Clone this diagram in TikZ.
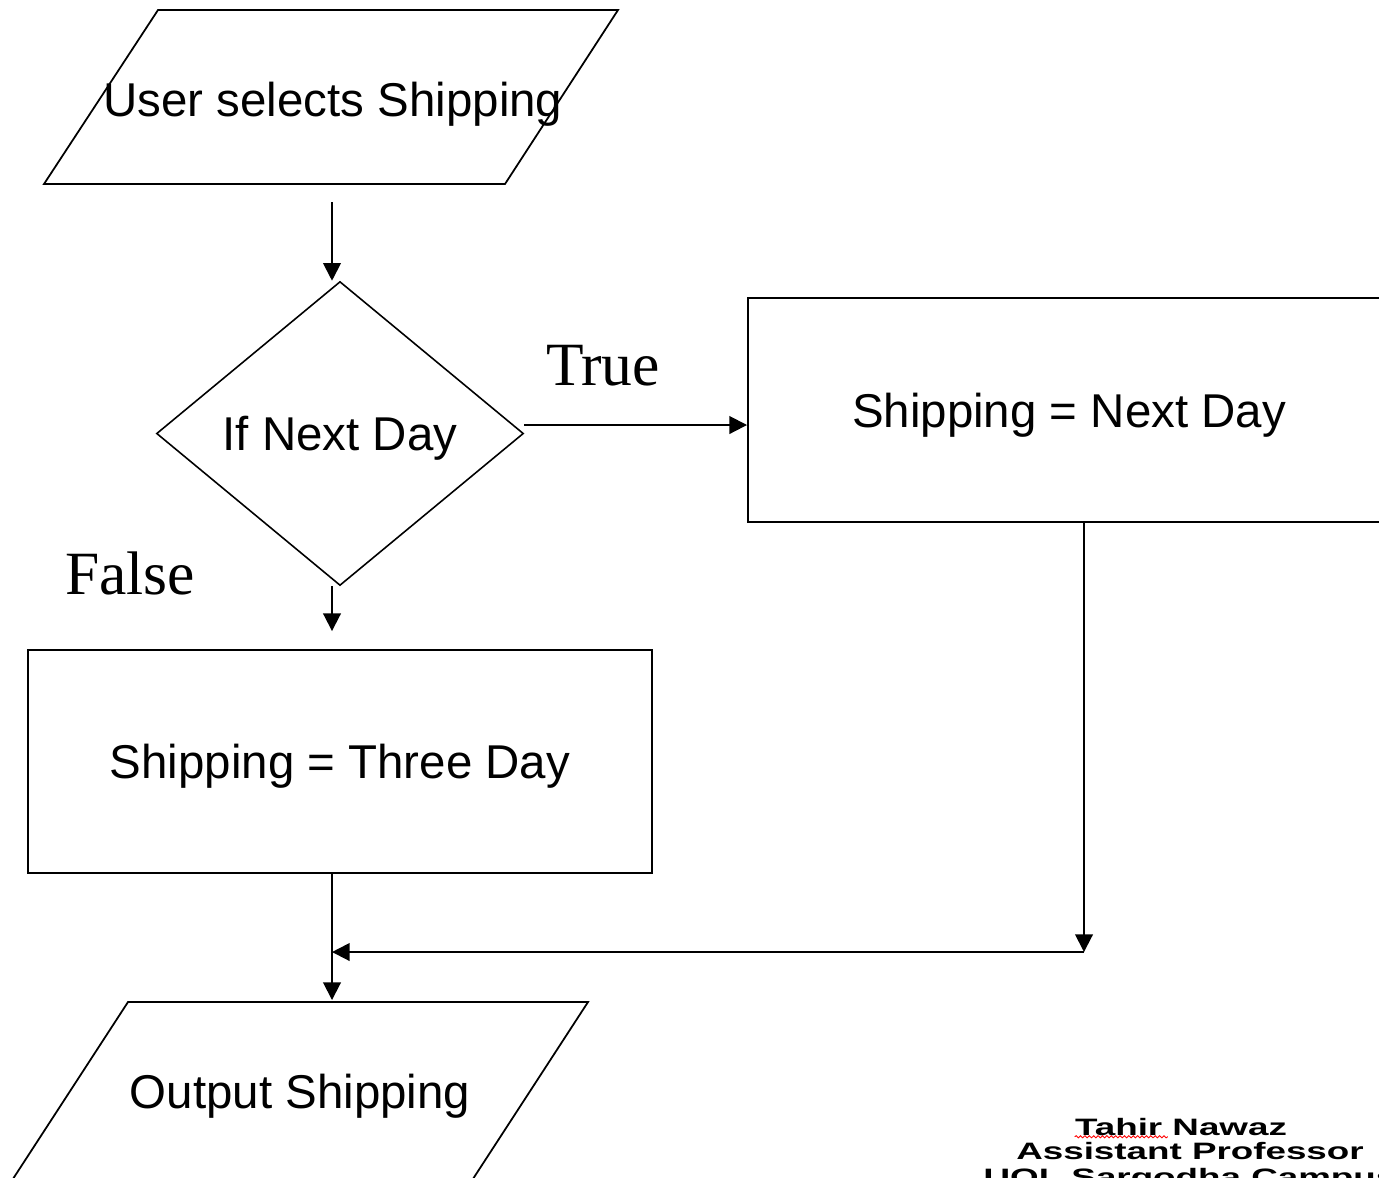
\documentclass[tikz,border=0pt]{standalone}
\usepackage{fontspec}
\setmainfont{Liberation Sans}
\newfontfamily\serifface{Liberation Serif}
\newfontfamily\footface{Liberation Sans}[FakeStretch=1.55]
\usetikzlibrary{shapes.geometric,arrows.meta,decorations.pathmorphing}

\begin{document}
\begin{tikzpicture}[x=1cm,y=1cm,
  txt/.style={inner sep=0pt, font=\fontsize{27}{32}\selectfont},
  lbl/.style={inner sep=0pt, font=\serifface\fontsize{35}{40}\selectfont},
  foot/.style={inner sep=0pt, font=\footface\bfseries\fontsize{13.5}{14}\selectfont},
  procbox/.style={draw, line width=1.1pt, inner sep=0pt, text depth=0pt, font=\fontsize{27}{32}\selectfont},
  iobox/.style={line width=1pt},
  decide/.style={draw, diamond, line width=0.9pt, inner sep=0pt, text depth=0pt, minimum width=7.34cm, minimum height=6.08cm, font=\fontsize{27}{32}\selectfont},
  arr/.style={line width=1.1pt, -{Triangle[length=10pt,width=10pt]}}]
\useasboundingbox (0,0) rectangle (27.58,-23.54);
\draw[iobox] (3.16,-0.2) -- (12.36,-0.2) -- (10.1,-3.68) -- (0.88,-3.68) -- cycle;
\node[txt, anchor=base] (usr) at (6.66,-2.32) {User selects Shipping};
\coordinate (usrb) at (6.64,-4.04);
\node[decide] (dia) at (6.8,-8.67) {If Next Day};
\node[procbox, minimum width=12.84cm, minimum height=4.48cm] (nxt) at (21.38,-8.2) {Shipping = Next Day};
\node[lbl, anchor=base] (tru) at (12.06,-7.7) {True};
\node[lbl, anchor=base] (fls) at (2.6,-11.88) {False};
\node[procbox, minimum width=12.48cm, minimum height=4.46cm] (thr) at (6.8,-15.23) {Shipping = Three Day};
\coordinate (join) at (21.68,-19.04);
\coordinate (outt) at (6.64,-20.0);
\draw[iobox] (0.18,-23.7) -- (2.56,-20.04) -- (11.76,-20.04) -- (9.38,-23.7);
\node[txt, anchor=base] (out) at (6.0,-22.16) {Output Shipping};
\draw[arr] (usrb) -- (usrb |- dia.north);
\draw[arr] ([yshift=0.17cm]dia.east) -- ([yshift=0.17cm]dia.east -| nxt.west);
\draw[arr] (dia.south -| usrb) -- ([yshift=0.36cm]thr.north -| usrb);
\draw[arr] (nxt.south -| join) -- (join);
\draw[arr] (join) -- (join -| usrb);
\draw[arr] (thr.south -| usrb) -- (outt);
\node[foot, anchor=base] (tn1) at (23.62,-22.7) {Tahir Nawaz};
\node[foot, anchor=base] (tn2) at (23.8,-23.18) {Assistant Professor};
\node[foot, anchor=base] (tn3) at (23.8,-23.7) {UOL Sargodha Campus};
\draw[red, line width=0.5pt, decorate, decoration={snake, amplitude=0.6pt, segment length=2.5pt}] ([yshift=-1pt]tn1.base west) -- ([xshift=1.86cm,yshift=-1pt]tn1.base west);
\end{tikzpicture}
\end{document}
